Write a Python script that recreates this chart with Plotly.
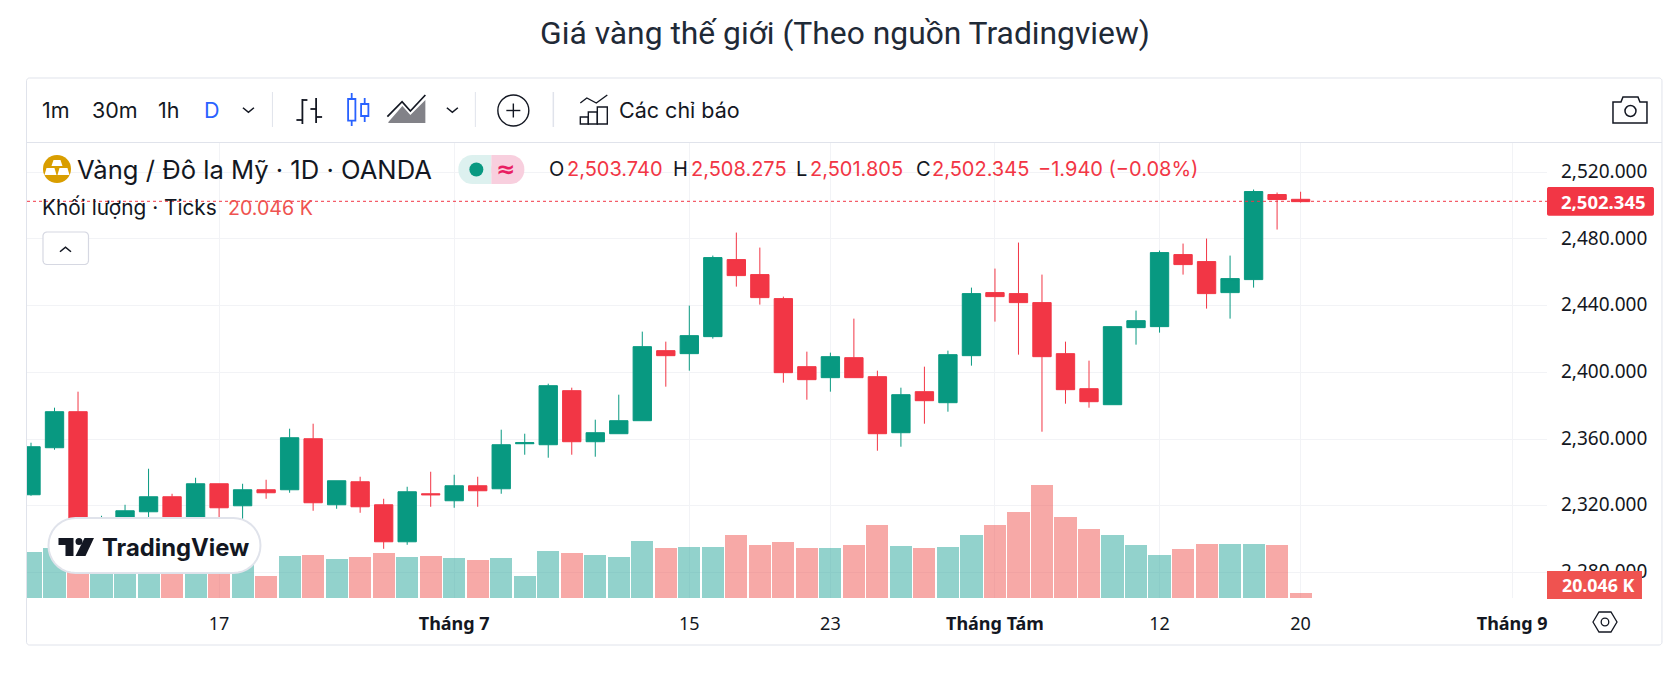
import math
import plotly.graph_objects as go

# ---------- data ----------
bar_index = list(range(-8, 47))
opens = [2326.6,2354.8,2376.4,2303.6,2307.6,2316.4,2325.4,2311.6,2333.2,2320.0,2329.6,2329.6,2360.2,2320.6,2334.4,2320.6,2298.4,2327.2,2323.0,2332.0,2330.2,2357.2,2356.6,
         2389.0,2358.4,2363.2,2371.0,2413.0,2411.2,2421.4,2467.6,2458.6,2444.2,2403.4,2396.8,2408.8,2397.4,2363.8,2388.4,2381.8,2410.0,2447.8,2447.2,2441.8,2411.2,2390.2,2380.6,
         2426.8,2427.4,2470.6,2466.4,2447.8,2455.6,2506.6,2503.74]
highs = [2357.8,2378.8,2388.4,2314.0,2320.6,2342.2,2327.2,2336.8,2333.2,2333.2,2335.6,2366.2,2369.2,2335.0,2337.4,2324.2,2331.4,2340.4,2338.6,2337.4,2365.6,2363.2,2393.2,
         2390.8,2371.6,2386.6,2424.4,2418.4,2440.0,2470.0,2483.8,2474.8,2445.4,2412.4,2411.8,2432.2,2401.0,2390.8,2403.4,2413.0,2450.8,2462.2,2477.8,2458.6,2418.4,2407.0,2427.4,
         2437.0,2473.0,2477.2,2480.2,2470.0,2509.6,2507.8,2508.275]
lows = [2326.0,2353.6,2297.6,2300.6,2303.6,2309.6,2304.6,2307.6,2310.6,2312.2,2324.2,2327.8,2317.0,2318.2,2315.8,2294.2,2296.6,2319.4,2318.8,2319.4,2327.2,2350.6,2348.8,
        2350.6,2349.4,2363.2,2371.0,2391.4,2401.0,2420.2,2451.4,2440.6,2393.8,2383.6,2388.4,2396.8,2353.0,2355.4,2369.2,2376.4,2404.0,2430.4,2410.6,2364.4,2381.2,2378.8,2380.6,
        2416.6,2423.8,2458.6,2438.2,2432.2,2450.8,2485.6,2501.805]
closes = [2355.4,2376.4,2301.6,2311.6,2317.0,2325.4,2307.6,2333.2,2318.8,2329.6,2327.8,2360.8,2321.8,2335.0,2319.4,2298.4,2328.4,2326.6,2332.0,2329.0,2356.6,2357.8,2392.0,
          2358.4,2363.8,2371.0,2415.4,2410.0,2422.0,2468.8,2458.0,2444.8,2399.8,2395.6,2409.4,2396.8,2363.2,2386.6,2383.0,2410.6,2447.2,2445.4,2441.8,2409.4,2389.6,2382.4,2427.4,
          2431.0,2471.8,2464.6,2447.2,2456.2,2508.4,2503.6,2502.345]
volumes_k = [184,200,187,190,185,195,180,190,175,182,88,168,172,156,164,180,164,168,160,152,160,88,188,
             180,172,164,228,200,204,204,252,212,224,200,200,212,293,208,200,204,252,293,345,453,325,277,252,
             212,172,196,216,216,216,212,20.046]

tick_positions = [0, 10, 20, 26, 33, 40, 46, 55]
tick_labels = ["17", "<b>Tháng 7</b>", "15", "23", "<b>Tháng Tám</b>", "12", "20", "<b>Tháng 9</b>"]
price_ticks = [2280, 2320, 2360, 2400, 2440, 2480, 2520]
last_price = 2502.345

# ---------- frame ----------
W, H = 1680, 679
L, R, T, B = 26.5, 1547, 143, 598
GREEN, RED = "#089981", "#F23645"
INK = "#131722"
UI = "Inter, Roboto, sans-serif"
AX = "'Noto Sans', sans-serif"

def px(x): return (x - L) / (R - L)
def py(y): return 1 - (y - T) / (B - T)

shapes, notes = [], []
def poly(pts, fill=None, line=None, w=1, close=True):
    d = "M" + " L".join(f"{px(a):.5f},{py(b):.5f}" for a, b in pts) + (" Z" if close else "")
    shapes.append(dict(type="path", xref="paper", yref="paper", path=d,
                       fillcolor=fill or "rgba(0,0,0,0)", line=dict(color=line or "rgba(0,0,0,0)", width=w), layer="above"))
def seg(x0, y0, x1, y1, c=INK, w=1, dash=None):
    shapes.append(dict(type="line", xref="paper", yref="paper", x0=px(x0), y0=py(y0), x1=px(x1), y1=py(y1),
                       line=dict(color=c, width=w, dash=dash), layer="above"))
def rect(x0, y0, x1, y1, fill=None, line=None, w=1):
    shapes.append(dict(type="rect", xref="paper", yref="paper", x0=px(x0), y0=py(y0), x1=px(x1), y1=py(y1),
                       fillcolor=fill or "rgba(0,0,0,0)", line=dict(color=line or "rgba(0,0,0,0)", width=w), layer="above"))
def circ(cx, cy, r, fill=None, line=None, w=1):
    shapes.append(dict(type="circle", xref="paper", yref="paper", x0=px(cx-r), y0=py(cy-r), x1=px(cx+r), y1=py(cy+r),
                       fillcolor=fill or "rgba(0,0,0,0)", line=dict(color=line or "rgba(0,0,0,0)", width=w), layer="above"))
def rrect(x0, y0, x1, y1, r, fill=None, line=None, w=1):
    pts = []
    for cx, cy, start in ((x0+r, y0+r, 180), (x1-r, y0+r, 270), (x1-r, y1-r, 0), (x0+r, y1-r, 90)):
        for d in range(0, 91, 10):
            a = math.radians(start + d)
            pts.append((cx + r*math.cos(a), cy + r*math.sin(a)))
    poly(pts, fill, line, w)
def text(x, y, s, size=21.5, color=INK, anchor="left", font=UI):
    notes.append(dict(xref="paper", yref="paper", x=px(x), y=py(y), text=s, showarrow=False, xanchor=anchor,
                      yanchor="middle", borderpad=0, font=dict(family=font, size=size, color=color)))
def chev(cx, cy, up=False):
    d = -4.5 if up else 4.5
    poly([(cx-5.5, cy-d/2), (cx, cy+d/2), (cx+5.5, cy-d/2)], line=INK, w=1.6, close=False)

# outer card and header line
rrect(26, 78, 1662, 645, 3, line="#E0E3EB", w=1)
seg(26, 142.5, 1662, 142.5, "#E0E3EB", 1)

# toolbar
text(41, 110, "1m"); text(91, 110, "30m"); text(157, 110, "1h"); text(202.5, 110, "D", color="#2962FF")
chev(248, 110); seg(272, 92, 272, 127, "#E0E3EB")
seg(302, 99, 302, 124, w=1.8); seg(302, 100, 307, 100, w=1.8); seg(296, 120, 302, 120, w=1.8)
seg(315.7, 98, 315.7, 123, w=1.8); seg(310, 109, 315.7, 109, w=1.8); seg(315.7, 117, 321.7, 117, w=1.8)
B_ = "#2962FF"
seg(351.3, 93, 351.3, 99, B_, 1.8); seg(351.3, 121, 351.3, 126, B_, 1.8); rect(347.7, 99, 355, 120.7, line=B_, w=1.8)
seg(364.3, 98, 364.3, 104, B_, 1.8); seg(364.3, 116, 364.3, 122, B_, 1.8); rect(360.7, 104, 368, 116, line=B_, w=1.8)
poly([(388, 122), (402, 106), (410, 115), (425, 100), (425, 123), (388, 123)], fill="rgba(40,40,50,.58)")
poly([(387, 116.7), (401.7, 101.7), (410, 111), (425, 95)], line=INK, w=1.7, close=False)
chev(452, 110); seg(475, 92, 475, 127, "#E0E3EB")
circ(513, 110.5, 15.5, line=INK, w=1.4); seg(506, 110.5, 520, 110.5, w=1.4); seg(513, 103.5, 513, 117.5, w=1.4)
seg(553, 92, 553, 127, "#E0E3EB", 1.5)
poly([(580, 103), (586.5, 98), (596, 103), (607, 95)], line=INK, w=1.4, close=False)
rect(580, 117, 588, 124, line=INK, w=1.4); rect(588, 112, 597, 124, line=INK, w=1.4); rect(597, 107, 607, 124, line=INK, w=1.4)
text(617.5, 110, "Các chỉ báo")
poly([(1613, 102), (1621, 102), (1623, 97), (1638, 97), (1640, 102), (1647, 102), (1647, 123), (1613, 123)], line=INK, w=1.5)
circ(1630.5, 111, 5.5, line=INK, w=1.5)

# legend rows
circ(56.5, 169, 14, fill="#D99E00")
poly([(53, 160), (60, 160), (62, 166), (51, 166)], fill="white")
poly([(46, 168), (54, 168), (56, 175), (44, 175)], fill="white")
poly([(59, 168), (67, 168), (69, 175), (57, 175)], fill="white")
text(76, 169, "Vàng / Đô la Mỹ · 1D · OANDA", size=25.6)
rrect(458, 155, 491, 184, 14, fill="#DDF1EF"); rect(475, 155, 491, 184, fill="#DDF1EF")
rrect(491, 155, 524, 184, 14, fill="#F8CFDE"); rect(491, 155, 507, 184, fill="#F8CFDE")
circ(476, 169.5, 7, fill=GREEN)
text(505, 169, "<b>≈</b>", size=23, color="#E91E63", anchor="center", font="DejaVu Sans")
VS = 20
text(548, 169, "O", size=VS)
text(566, 169, "2,503.740", size=VS, color=RED)
text(672, 169, "H", size=VS)
text(689.5, 169, "2,508.275", size=VS, color=RED)
text(794.5, 169, "L", size=VS)
text(808.5, 169, "2,501.805", size=VS, color=RED)
text(915, 169, "C", size=VS)
text(930.5, 169, "2,502.345", size=VS, color=RED)
text(1036.5, 169, "−1.940 (−0.08%)", size=VS, color=RED)
text(40.5, 208, "Khối lượng · Ticks", size=20.8)
text(226.5, 208, "20.046 K", size=19.6, color="#EF5350")
rrect(42.5, 232, 88, 264.5, 4, fill="white", line="#D6D8E2", w=1.2)
chev(65, 249.5, up=True)

# last price line and tags
seg(L, 201.3, R, 201.3, RED, 1, "dot")
rrect(1547, 187, 1654, 215.7, 2, fill=RED)
text(1560, 201.3, "<b>2,502.345</b>", size=18.5, color="white", font=AX)
rect(1547, 571, 1642, 599, fill="#EF5350")
text(1561, 585, "<b>20.046 K</b>", size=17.8, color="white", font=AX)

# TradingView badge
rrect(48, 518, 260, 573, 27, fill="white", line="#E0E3EB", w=2)
poly([(58, 538), (73, 538), (73, 556), (65, 556), (65, 545), (58, 545)], fill=INK)
circ(78.5, 541.5, 3.5, fill=INK)
poly([(84, 538), (93.5, 538), (85, 556), (75, 556)], fill=INK)
text(101, 547, "<b>TradingView</b>", size=23.8)

# axis settings hexagon
poly([(1593, 622), (1599, 612), (1611, 612), (1617, 622), (1611, 632), (1599, 632)], line=INK, w=1.3)
circ(1605, 622, 3.8, line=INK, w=1.3)

vol_colors = ["rgba(38,166,154,.5)" if c >= o else "rgba(239,83,80,.5)" for o, c in zip(opens, closes)]

fig = go.Figure()
fig.add_trace(go.Bar(x=bar_index, y=volumes_k, marker=dict(color=vol_colors, line=dict(width=0)),
                     width=0.94, yaxis="y", showlegend=False, name="Khối lượng"))
fig.add_trace(go.Candlestick(x=bar_index, open=opens, high=highs, low=lows, close=closes, yaxis="y2",
                             increasing=dict(line=dict(color=GREEN, width=1), fillcolor=GREEN),
                             decreasing=dict(line=dict(color=RED, width=1), fillcolor=RED),
                             whiskerwidth=0, showlegend=False, name="XAUUSD"))
fig.update_layout(
    width=W, height=H, autosize=False, paper_bgcolor="white", plot_bgcolor="white",
    margin=dict(l=L, r=W - R, t=T, b=H - B, pad=0),
    title=dict(text="Giá vàng thế giới (Theo nguồn Tradingview)", x=845/W, xanchor="center", y=1-33/H, yanchor="middle",
               font=dict(family="Roboto, sans-serif", size=31.8, color="#1F2A37")),
    boxgap=0.22, boxgroupgap=0, bargap=0, showlegend=False, font=dict(family=AX, color=INK),
    xaxis=dict(range=[-8.17, 56.48], tickmode="array", tickvals=tick_positions, ticktext=tick_labels,
               showgrid=True, gridcolor="#F2F3F6", gridwidth=1, zeroline=False, showline=False, ticks="",
               ticklabelstandoff=13, tickfont=dict(family=AX, size=18, color=INK),
               rangeslider=dict(visible=False)),
    yaxis=dict(range=[0, 1823.6], visible=False, showgrid=False, zeroline=False),
    yaxis2=dict(range=[2264.7, 2537.5], overlaying="y", side="right", tickmode="array", tickvals=price_ticks,
                tickformat=",.3f", showgrid=True, gridcolor="#F2F3F6", gridwidth=1, zeroline=False, showline=False,
                ticks="", ticklabelstandoff=13, ticklabelshift=-1, tickfont=dict(family=AX, size=19, color=INK)),
    shapes=shapes, annotations=notes,
)
fig.write_html("out.html", config=dict(displayModeBar=False),
               post_script="document.body.style.margin='0';document.documentElement.style.overflow='hidden';")
